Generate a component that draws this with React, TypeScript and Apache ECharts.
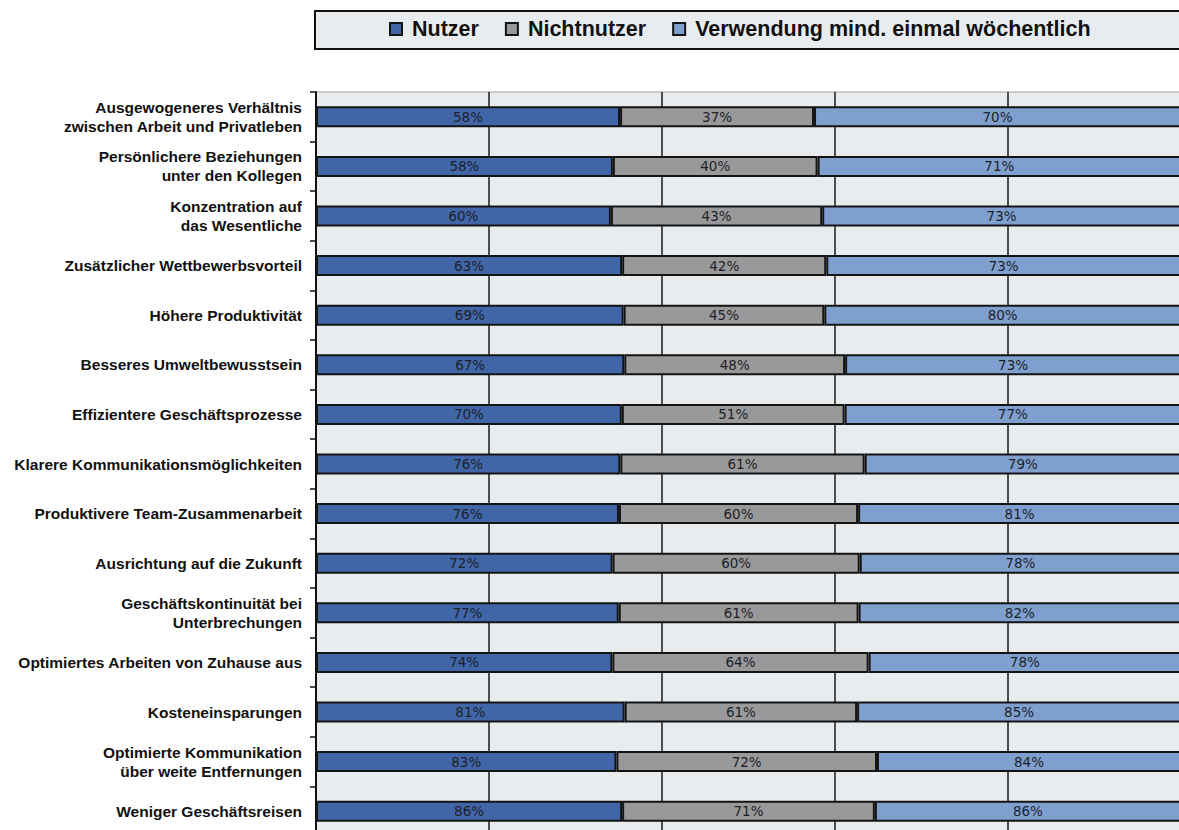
import React, { useEffect, useRef } from "react";
import * as echarts from "echarts";

const categories: string[] = [
  "Ausgewogeneres Verhältnis\nzwischen Arbeit und Privatleben",
  "Persönlichere Beziehungen\nunter den Kollegen",
  "Konzentration auf\ndas Wesentliche",
  "Zusätzlicher Wettbewerbsvorteil",
  "Höhere Produktivität",
  "Besseres Umweltbewusstsein",
  "Effizientere Geschäftsprozesse",
  "Klarere Kommunikationsmöglichkeiten",
  "Produktivere Team-Zusammenarbeit",
  "Ausrichtung auf die Zukunft",
  "Geschäftskontinuität bei\nUnterbrechungen",
  "Optimiertes Arbeiten von Zuhause aus",
  "Kosteneinsparungen",
  "Optimierte Kommunikation\nüber weite Entfernungen",
  "Weniger Geschäftsreisen",
];

const nutzer: number[] = [58, 58, 60, 63, 69, 67, 70, 76, 76, 72, 77, 74, 81, 83, 86];
const nichtnutzer: number[] = [37, 40, 43, 42, 45, 48, 51, 61, 60, 60, 61, 64, 61, 72, 71];
const woechentlich: number[] = [70, 71, 73, 73, 80, 73, 77, 79, 81, 78, 82, 78, 85, 84, 86];

const seriesNames: string[] = ["Nutzer", "Nichtnutzer", "Verwendung mind. einmal wöchentlich"];
const seriesColors: string[] = ["#4066a8", "#999999", "#7f9fcf"];

export default function App() {
  const ref = useRef<HTMLDivElement>(null);

  useEffect(() => {
    if (!ref.current) return;
    const chart = echarts.init(ref.current, undefined, { renderer: "svg" });
    const raw = [nutzer, nichtnutzer, woechentlich];
    const totals = categories.map((_, i) => nutzer[i] + nichtnutzer[i] + woechentlich[i]);

    const series = raw.map((vals, s) => ({
      name: seriesNames[s],
      type: "bar",
      stack: "total",
      barWidth: 21,
      data: vals.map((v, i) => (v / totals[i]) * 100),
      itemStyle: {
        color: seriesColors[s],
        borderColor: "#141414",
        borderWidth: 2,
      },
      label: {
        show: true,
        position: "inside",
        formatter: (p: any) => `${vals[p.dataIndex]}%`,
        fontFamily: "DejaVu Sans",
        fontSize: 13.5,
        color: "#1c1f2a",
      },
    }));

    chart.setOption({
      animation: false,
      backgroundColor: "#ffffff",
      graphic: [
        {
          type: "rect",
          shape: { x: 315, y: 11, width: 900, height: 38 },
          style: { fill: "#e9ecef", stroke: "#111111", lineWidth: 2 },
          z: 0,
        },
      ],
      legend: {
        left: 389,
        top: 18,
        padding: 0,
        itemWidth: 12,
        itemHeight: 12,
        itemGap: 26,
        icon: "rect",
        textStyle: {
          fontFamily: "Liberation Sans, Arial, sans-serif",
          fontWeight: "bold",
          fontSize: 21.5,
          color: "#111111",
          padding: [0, 0, 0, 5],
        },
        data: seriesNames,
      },
      grid: {
        left: 316,
        top: 92,
        right: 9,
        bottom: 4,
        show: true,
        backgroundColor: "#e9ecef",
        borderColor: "#a0a0a0",
        borderWidth: 1,
      },
      xAxis: {
        type: "value",
        min: 0,
        max: 100,
        interval: 20,
        axisLabel: { show: false },
        axisLine: { show: false },
        axisTick: { show: false },
        splitLine: { show: true, lineStyle: { color: "#1a1a1a", width: 1.5 } },
      },
      yAxis: {
        type: "category",
        inverse: true,
        data: categories,
        axisLine: { show: true, lineStyle: { color: "#111111", width: 2 } },
        axisTick: { show: true, length: 6, lineStyle: { color: "#111111", width: 1.5 } },
        axisLabel: {
          margin: 14,
          fontFamily: "Liberation Sans, Arial, sans-serif",
          fontWeight: "bold",
          fontSize: 15.5,
          lineHeight: 19,
          color: "#111111",
          align: "right",
        },
        splitLine: { show: false },
      },
      series,
    });

    return () => chart.dispose();
  }, []);

  return (
    <div style={{ position: "fixed", left: 0, top: 0, width: 1179, height: 830, overflow: "hidden", background: "#fff" }}>
      <div ref={ref} style={{ width: 1190, height: 840 }} />
    </div>
  );
}
